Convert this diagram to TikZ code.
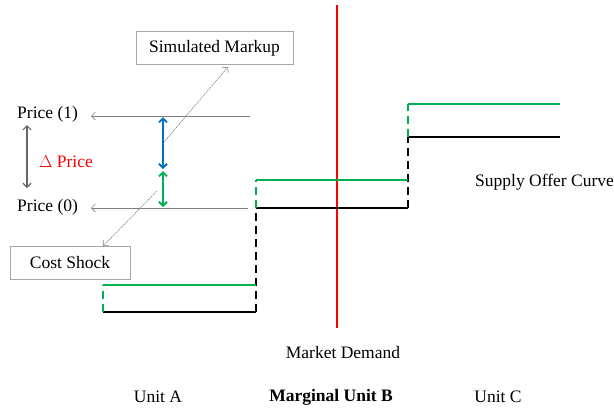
\documentclass[tikz,border=0pt]{standalone}
\usepackage{fontspec}
\setmainfont{Liberation Serif}
\usetikzlibrary{arrows.meta}
\definecolor{mygreen}{RGB}{0,176,80}
\definecolor{myblue}{RGB}{0,112,192}
\definecolor{myred}{RGB}{255,0,0}
\tikzset{
  x=1pt,y=-1pt,
  lbl/.style={font=\fontsize{17.5}{20}\selectfont, inner sep=0pt},
  boxnode/.style={draw=gray!70, line width=0.8pt, minimum width=#1, minimum height=33, font=\fontsize{17.5}{20}\selectfont},
  stepline/.style={line width=2.4pt},
  stepdash/.style={line width=2.4pt, dash pattern=on 8pt off 5pt},
  pricearrow/.style={gray, line width=0.7pt, -{Straight Barb[length=4pt,width=8pt]}},
  diag/.style={gray, line width=0.6pt, dash pattern=on 1.5pt off 0.8pt, -{Straight Barb[length=4pt,width=8pt]}},
  dbl/.style={line width=1.8pt, {Straight Barb[length=4pt,width=8pt]}-{Straight Barb[length=4pt,width=8pt]}}
}
\begin{document}
\begin{tikzpicture}
\useasboundingbox (0,0) rectangle (614,413);
% market demand
\coordinate (dtop) at (337,5);
\coordinate (dbot) at (337,328);
\draw[myred, line width=2.6pt] (dtop) -- (dbot);
% black supply curve
\draw[stepline] (103,312) -- (256,312);
\draw[stepdash] (256,312) -- (256,208);
\draw[stepline] (256,208) -- (408,208);
\draw[stepdash] (408,208) -- (408,137);
\draw[stepline] (408,137) -- (560,137);
% green supply curve
\draw[stepdash, mygreen] (103,312) -- (103,285);
\draw[stepline, mygreen] (103,285) -- (256,285);
\draw[stepdash, mygreen] (256,208) -- (256,180);
\draw[stepline, mygreen] (256,180) -- (408,180);
\draw[stepdash, mygreen] (408,137) -- (408,104);
\draw[stepline, mygreen] (408,104) -- (560,104);
% labels
\node[lbl, anchor=west] (p1) at (17,114) {Price (1)};
\node[lbl, anchor=west] (p0) at (17,207) {Price (0)};
\node[lbl, anchor=west, text=myred] (dp) at (39,162) {$\Delta$ Price};
\coordinate (p1s) at (250,116);
\coordinate (p1e) at (91,116);
\coordinate (p0s) at (248,208);
\coordinate (p0e) at (91,208);
\draw[pricearrow] (p1s) -- (p1e);
\draw[pricearrow] (p0s) -- (p0e);
\coordinate (dpa) at (27,125);
\coordinate (dpb) at (27,188);
\draw[gray!80!black, line width=1.2pt, {Straight Barb[length=4pt,width=8pt]}-{Straight Barb[length=4pt,width=8pt]}] (dpa) -- (dpb);
% blue and green double arrows
\coordinate (ba) at (163,117);
\coordinate (bb) at (163,169);
\coordinate (ga) at (163,171);
\coordinate (gb) at (163,207);
\draw[dbl, myblue] (ba) -- (bb);
\draw[dbl, mygreen] (ga) -- (gb);
% boxes
\node[boxnode=157] (sm) at (214.5,48) {Simulated Markup};
\node[boxnode=120] (cs) at (70,263) {Cost Shock};
\coordinate (sms) at (164,142);
\coordinate (css) at (157,191);
\draw[diag] (sms) -- (228,67);
\draw[diag] (css) -- (103,246);
% other texts
\node[lbl, anchor=west] (soc) at (475,182) {Supply Offer Curve};
\node[lbl] (md) at (343,353) {Market Demand};
\node[lbl] (ua) at (158,397) {Unit A};
\node[lbl, font=\fontsize{17.5}{20}\selectfont\bfseries] (ub) at (331,397) {Marginal Unit B};
\node[lbl] (uc) at (498,397) {Unit C};
\end{tikzpicture}
\end{document}
